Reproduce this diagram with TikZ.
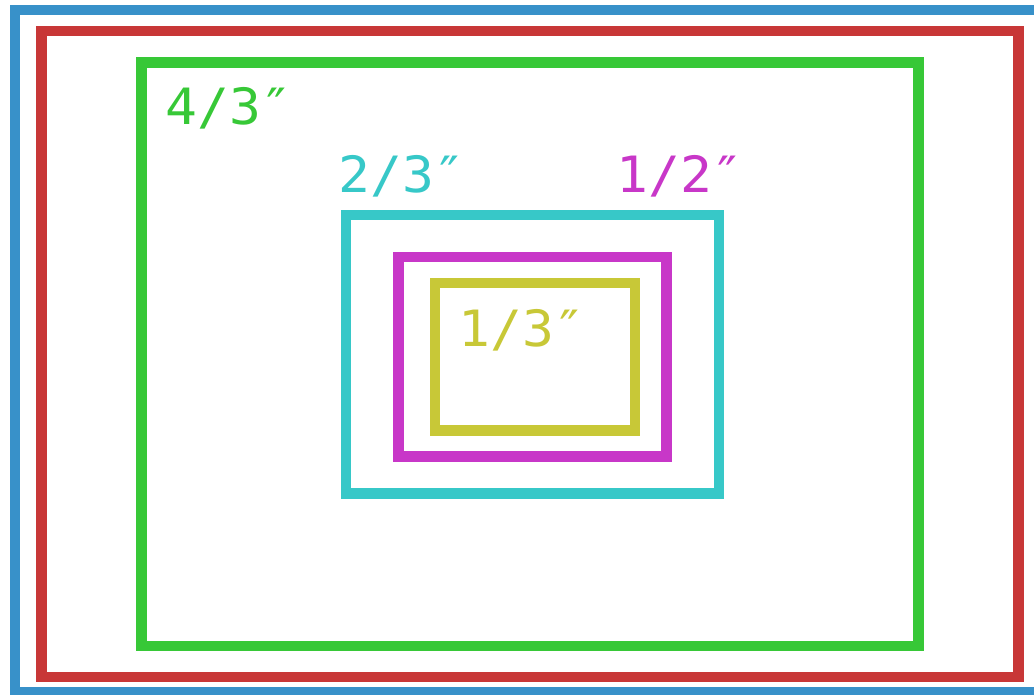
\documentclass[tikz,border=0pt]{standalone}
\usepackage{fontspec}
\newfontfamily\labelfont[FakeStretch=1.06]{DejaVu Sans Mono}
\definecolor{cblue}{HTML}{3891C9}
\definecolor{cred}{HTML}{C83737}
\definecolor{cgreen}{HTML}{37C837}
\definecolor{ccyan}{HTML}{37C8C8}
\definecolor{cmag}{HTML}{C837C8}
\definecolor{cyel}{HTML}{C8C837}
\tikzset{
  frame/.style={line width=10.5pt},
  lbl/.style={anchor=base west, inner sep=0pt, font=\labelfont\fontsize{50}{50}\selectfont}
}
\begin{document}
\begin{tikzpicture}[x=1pt,y=-1pt]
\useasboundingbox (0,0) rectangle (1034,695);
\clip (0,0) rectangle (1034,695);
\fill[white] (0,0) rectangle (1034,695);
\draw[frame, cblue] (15,10) rectangle (1045,692);
\draw[frame, cred] (41.5,31) rectangle (1018.5,677);
\draw[frame, cgreen] (141.5,62.5) rectangle (918.5,646);
\draw[frame, ccyan] (346,215) rectangle (719,493.5);
\draw[frame, cmag] (398.5,257) rectangle (666.5,456.5);
\draw[frame, cyel] (435,283) rectangle (635,430.5);
\node[lbl, text=cgreen] (l43) at (165,125) {4/3″};
\node[lbl, text=ccyan] (l23) at (338,193) {2/3″};
\node[lbl, text=cmag] (l12) at (616,193) {1/2″};
\node[lbl, text=cyel] (l13) at (458,346) {1/3″};
\end{tikzpicture}
\end{document}
